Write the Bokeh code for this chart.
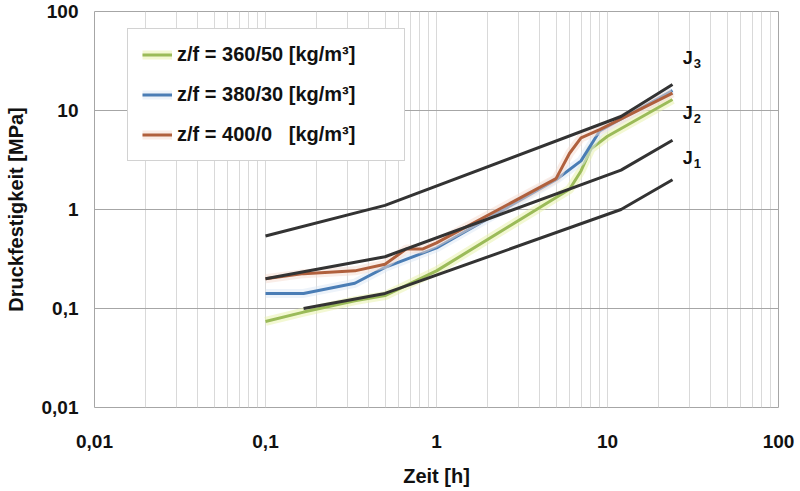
from bokeh.plotting import figure
from bokeh.models import (Range1d, FixedTicker, CustomJSTickFormatter, Legend, LegendItem)
from bokeh.core.properties import value
from bokeh.embed import file_html
from bokeh.resources import INLINE

# ---- data ----
t_green = [0.1, 0.167, 0.333, 0.5, 1, 6, 7, 8, 10, 24]
v_green = [0.074, 0.092, 0.12, 0.135, 0.24, 1.6, 2.45, 4.1, 5.5, 12.9]

t_blue = [0.1, 0.167, 0.333, 0.5, 1, 5, 7, 9, 24]
v_blue = [0.142, 0.142, 0.18, 0.26, 0.41, 2.0, 3.1, 6.2, 15.9]

t_orange = [0.1, 0.167, 0.333, 0.5, 0.667, 0.833, 1, 5, 6, 7, 9, 24]
v_orange = [0.2, 0.225, 0.24, 0.28, 0.40, 0.40, 0.46, 2.05, 3.7, 5.3, 6.4, 15.0]

t_j3 = [0.1, 0.5, 12, 24]
v_j3 = [0.54, 1.1, 8.7, 18.3]
t_j2 = [0.1, 0.5, 12, 24]
v_j2 = [0.2, 0.333, 2.5, 5.0]
t_j1 = [0.167, 0.5, 12, 24]
v_j1 = [0.1, 0.142, 1.0, 2.0]

series_names = ["z/f = 360/50 [kg/m³]", "z/f = 380/30 [kg/m³]",
                "z/f = 400/0\u00a0\u00a0\u00a0[kg/m³]"]

j_label_x = [27.5, 27.5, 27.5]
j_label_y = [33.6, 9.4, 3.3]
j_label_main = ["J", "J", "J"]
j_label_sub = ["3", "2", "1"]

x_ticks = [0.01, 0.1, 1, 10, 100]
y_ticks = [0.01, 0.1, 1, 10, 100]

FONT = "Liberation Sans"

p = figure(width=800, height=491, x_axis_type="log", y_axis_type="log",
           x_range=Range1d(0.01, 100), y_range=Range1d(0.01, 100),
           output_backend="svg", toolbar_location=None,
           min_border_left=94, min_border_right=22, min_border_top=11, min_border_bottom=84)

p.background_fill_color = "white"
p.border_fill_color = "white"
p.outline_line_color = "#a6a6a6"
p.outline_line_width = 1

minor = []
for d in [0.01, 0.1, 1, 10]:
    for k in range(2, 10):
        minor.append(round(d * k, 6))

p.xaxis.ticker = FixedTicker(ticks=x_ticks, minor_ticks=minor)
p.yaxis.ticker = FixedTicker(ticks=y_ticks, minor_ticks=[])
fmt = "return String(tick).replace('.', ',');"
p.xaxis.formatter = CustomJSTickFormatter(code=fmt)
p.yaxis.formatter = CustomJSTickFormatter(code=fmt)

for ax in (p.xaxis, p.yaxis):
    ax.axis_line_color = None
    ax.major_tick_line_color = None
    ax.minor_tick_line_color = None
    ax.major_tick_out = 0
    ax.major_tick_in = 0
    ax.minor_tick_out = 0
    ax.minor_tick_in = 0
    ax.major_label_text_font = FONT
    ax.major_label_text_font_style = "bold"
    ax.major_label_text_font_size = "19px"
    ax.major_label_text_color = "#111111"
    ax.major_label_text_line_height = 1.0
    ax.axis_label_text_font = FONT
    ax.axis_label_text_font_style = "bold"
    ax.axis_label_text_font_size = "20px"
    ax.axis_label_text_color = "#111111"
    ax.axis_label_text_line_height = 1.0

p.xaxis.axis_label = "Zeit [h]"
p.yaxis.axis_label = "Druckfestigkeit [MPa]"
p.xaxis.major_label_standoff = 27
p.yaxis.major_label_standoff = 16
p.xaxis.axis_label_standoff = 14
p.yaxis.axis_label_standoff = 12

p.xgrid.grid_line_color = "#d9d9d9"
p.xgrid.minor_grid_line_color = "#d9d9d9"
p.ygrid.grid_line_color = "#a6a6a6"
p.ygrid.minor_grid_line_color = None

# colored series with soft glow
specs = [
    (t_green, v_green, "#9bbb59", "#e8f2a8"),
    (t_blue, v_blue, "#4a7db5", "#dce8f5"),
    (t_orange, v_orange, "#b0603d", "#f6dccf"),
]
items = []
for (t, v, col, glow), name in zip(specs, series_names):
    g = p.line(t, v, line_color=glow, line_width=9, line_alpha=0.5)
    r = p.line(t, v, line_color=col, line_width=3)
    items.append(LegendItem(label=name, renderers=[g, r]))

for t, v in [(t_j3, v_j3), (t_j2, v_j2), (t_j1, v_j1)]:
    p.line(t, v, line_color="#333333", line_width=3)

p.text(j_label_x, j_label_y, text=j_label_main, text_font=value(FONT),
       text_font_style="bold", text_font_size="18px", text_color="#111111",
       text_align="left", text_baseline="middle")
p.text(j_label_x, j_label_y, text=j_label_sub, text_font=value(FONT),
       text_font_style="bold", text_font_size="13px", text_color="#111111",
       text_align="left", text_baseline="middle", x_offset=11, y_offset=5)

legend = Legend(items=items, location=(33, 246))
legend.label_text_font = FONT
legend.label_text_font_style = "bold"
legend.label_text_font_size = "20px"
legend.label_text_color = "#111111"
legend.glyph_width = 30
legend.glyph_height = 21
legend.label_height = 21
legend.label_width = 213
legend.label_standoff = 5
legend.spacing = 17
legend.padding = 14
legend.margin = 0
legend.border_line_color = "#a6a6a6"
legend.border_line_width = 1
legend.background_fill_color = "white"
legend.background_fill_alpha = 1
p.add_layout(legend, "center")

open("out.html", "w").write(file_html(p, INLINE))
